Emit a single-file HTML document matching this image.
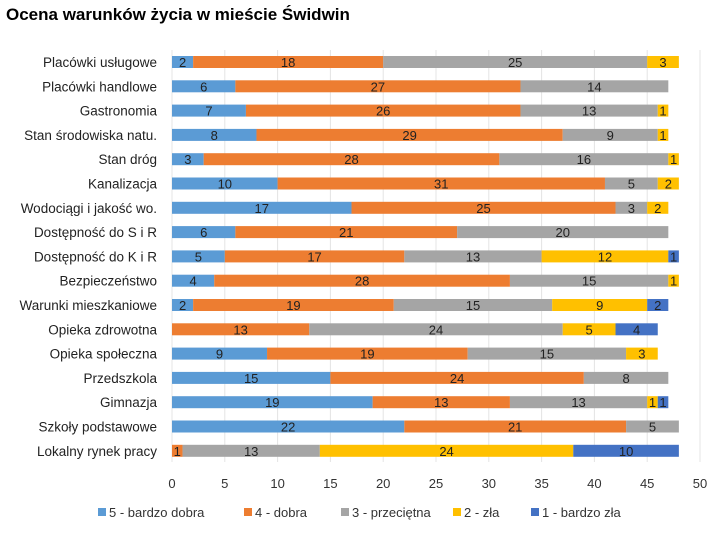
<!DOCTYPE html>
<html><head><meta charset="utf-8"><style>
body{margin:0;background:#fff;}
svg text{font-family:"Liberation Sans",sans-serif;}
</style></head><body>
<svg width="720" height="540" viewBox="0 0 720 540">
<rect x="0" y="0" width="720" height="540" fill="#fff"/>
<text x="6" y="20" font-size="17" font-weight="bold" fill="#000">Ocena warunków życia w mieście Świdwin</text>
<g id="grid"></g><g id="bars"></g><g id="labels"></g><g id="ticks"></g><g id="legend"></g>
</svg>
<script>
const categories=["Placówki usługowe","Placówki handlowe","Gastronomia","Stan  środowiska natu.","Stan dróg","Kanalizacja","Wodociągi i jakość wo.","Dostępność do S i R","Dostępność do K i R","Bezpieczeństwo","Warunki mieszkaniowe","Opieka zdrowotna","Opieka społeczna","Przedszkola","Gimnazja","Szkoły podstawowe","Lokalny rynek pracy"];
const s5=[2,6,7,8,3,10,17,6,5,4,2,0,9,15,19,22,0];
const s4=[18,27,26,29,28,31,25,21,17,28,19,13,19,24,13,21,1];
const s3=[25,14,13,9,16,5,3,20,13,15,15,24,15,8,13,5,13];
const s2=[3,0,1,1,1,2,2,0,12,1,9,5,3,0,1,0,24];
const s1=[0,0,0,0,0,0,0,0,1,0,2,4,0,0,1,0,10];
const seriesNames=["5 - bardzo dobra","4 - dobra","3 - przeciętna","2 - zła","1 - bardzo zła"];
const ticks=[0,5,10,15,20,25,30,35,40,45,50];
const colors=["#5b9bd5","#ed7d31","#a5a5a5","#ffc000","#4472c4"];
const series=[s5,s4,s3,s2,s1];
const NS="http://www.w3.org/2000/svg";
const x0=172,x1=700,y0=62,dy=24.3,bh=12;
const xs=v=>x0+(x1-x0)*v/50;
const ys=i=>y0+i*dy;
function mk(t,a,p){const e=document.createElementNS(NS,t);for(const k in a)e.setAttribute(k,a[k]);p.appendChild(e);return e;}
const G=document.getElementById('grid'),B=document.getElementById('bars'),L=document.getElementById('labels'),T=document.getElementById('ticks'),LG=document.getElementById('legend');
ticks.forEach(t=>{
 const l=mk('line',{x1:xs(t),x2:xs(t),y1:50,y2:462,stroke:"#e4e4e4","stroke-width":1},G);
 
 
 const tx=mk('text',{x:xs(t),y:488,"text-anchor":"middle","font-size":13,fill:"#333"},T);
 tx.textContent=t;
 
 
});
categories.forEach((c,i)=>{
 const y=ys(i);
 const ct=mk('text',{x:157,y:y+5,"text-anchor":"end","font-size":13.5,fill:"#222"},L);
 ct.textContent=c;
 
 
 let acc=0;
 series.forEach((s,k)=>{
  const v=s[i]; if(!v)return;
  const r=mk('rect',{x:xs(acc),y:y-bh/2,width:xs(acc+v)-xs(acc),height:bh,fill:colors[k]},B);
  
  
  const vt=mk('text',{x:(xs(acc)+xs(acc+v))/2,y:y+5,"text-anchor":"middle","font-size":13,fill:"#222"},B);
  vt.textContent=v;
  
  
  acc+=v;
 });
});
let lx=98;
const lw=[146,97,112,78,110];
seriesNames.forEach((n,k)=>{
 const r=mk('rect',{x:lx,y:508,width:8,height:8,fill:colors[k]},LG);
 
 
 const t=mk('text',{x:lx+11,y:517,"font-size":13,fill:"#333"},LG);
 t.textContent=n;
 
 
 lx+=lw[k];
});
</script>
</body></html>
